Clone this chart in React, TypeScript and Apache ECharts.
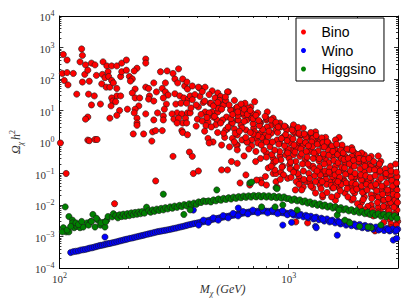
import React, { useEffect, useRef } from "react";
import * as echarts from "echarts";

// [M_chi (GeV), Omega h^2]
const BINO: [number, number][] = [
  [125,900],[126,560],[104,600],[108,400],[123,350],[138,320],[143,280],[130,280],[155,350],[161,260],[169,260],[178,260],[187,320],[196,400],[238,430],[238,320],[103,150],[108,160],[115,150],[105,90],[109,65],[119,33],[129,140],[133,190],[126,80],[135,85],[134,33],[138,15],[142,29],[151,16],[145,130],[154,140],[158,110],[163,170],[164,120],[153,70],[160,55],[166,55],[169,90],[172,75],[178,50],[185,120],[187,170],[178,29],[185,29],[169,25],[171,20],[168,14],[176,19],[183,10],[178,7],[166,5.7],[196,190],[202,120],[208,100],[218,220],[212,180],[204,86],[214,48],[208,36],[214,25],[224,25],[222,14],[214,11],[198,11],[212,8.4],[218,5.7],[238,7.8],[238,55],[245,50],[247,29],[245,23],[258,20],[258,75],[276,170],[295,180],[313,150],[331,210],[265,39],[281,50],[290,75],[290,39],[298,31],[284,25],[293,16],[287,11],[268,8.4],[284,6.7],[319,100],[328,75],[345,100],[352,60],[362,48],[319,34],[335,29],[349,25],[365,23],[322,16],[339,17],[359,17],[372,29],[326,8.4],[342,7.8],[362,8.4],[310,7.8],[316,5.3],[331,5.7],[345,4],[355,5.7],[372,8.4],[218,4],[133,6.2],[130,5.3],[408,52],[546,39],[360,80],[380,60],
  [101,0.93],[107,0.1],[133,1.15],[135,1.1],[143,1.2],[146,1.2],[174,0.011],[210,1.8],[218,3.4],[233,1.8],[253,1.07],[255,2.1],[263,2.3],[281,2.3],[258,5],[284,5],[326,4],[342,2.3],[345,2.0],[362,1.7],[359,4],[369,0.48],[380,0.35],[313,0.35],[263,0.058],[384,0.1],
  [432,55],[404,55],[464,42],[491,36],[541,39],[478,25],[505,28],[454,17],[424,18],[404,13],[464,9],[432,9],[400,5.3],[420,4.6],[445,4.3],[436,3.3],[500,21],[515,15],[491,9],[486,5],[536,6.2],[580,21],[591,12],[563,10],[620,10],[639,7],[684,13],[690,8.4],[658,5],[597,5],[563,4],[541,2.6],[580,2.6],[620,3.4],[651,2.4],[704,2.8],[754,4],[800,5],[856,5.7],[840,3.4],[916,4],[881,2.4],[971,3],[1040,2.8],[1070,1.9],[1010,1.4],[943,1.4],[1140,1.67],[1230,1.4],[1300,1.16],[1390,1.16],[1490,0.93],[1180,0.93],[1110,0.93],[916,0.93],[831,0.93],[777,1.16],[754,1.9],[792,1.67],[725,1.3],[690,1.16],[626,1.16],[597,1.67],[568,1.3],[526,1.4],[445,1.3],[468,1.0],[510,0.8],[552,0.7],[597,0.8],[658,1.0],[690,0.75],
  [1190,1.67],[1276,1.4],[1370,1.16],[1407,0.7],[1500,0.66],[1600,0.56],[1660,0.36],[1551,0.35],[1450,0.27],[1310,0.45],[1240,0.56],[1180,0.27],[1240,0.17],[1190,0.055],[1276,0.035],[1370,0.062],[1450,0.09],[1520,0.055],[1600,0.062],[1710,0.13],[1760,0.22],[1885,0.17],[1940,0.35],[2040,0.22],[2140,0.11],[2240,0.19],[2410,0.15],[2480,0.11],[2650,0.08],[2785,0.075],[2910,0.043],[2785,0.03],[2600,0.037],[2460,0.055],[2291,0.062],[2140,0.055],[2020,0.08],[1920,0.062],[1830,0.043],[1740,0.062],[1660,0.035],[1760,0.024],[1940,0.024],[2140,0.018],[2360,0.02],[2580,0.014],[2730,0.011],[2910,0.009],[2526,0.0076],[2291,0.009],[2078,0.012],[2220,0.0053],[2380,0.0015],[2340,0.0045],[2785,0.0048],[2970,0.0069],[1210,0.0027],[1600,0.014],[1407,0.018],[1310,0.024],[1660,1.4],[1710,0.7],[1830,0.56],[1940,0.45],[2140,0.39],[2480,0.19],[2730,0.09],[2460,0.36],
  [591,0.8],[597,0.56],[639,0.36],[563,0.24],[597,0.21],[510,0.13],[541,0.13],[404,0.12],[651,0.09],[718,0.24],[754,0.3],[800,0.45],[815,0.15],[792,0.08],[754,0.062],[762,0.05],[725,0.062],[856,0.1],[881,0.1],[925,0.11],[943,0.17],[1010,0.19],[1060,0.13],[1110,0.08],[1120,0.055],[1070,0.03],[990,0.07],[881,0.055],[856,0.3],[916,0.36],[971,0.39],[1040,0.56],[1140,0.7],[1075,0.0029],[800,0.043],
  [614,0.05],[677,0.043],[890,0.037],[1158,0.037],[1240,0.05],[1370,0.043],[1551,0.035],[1407,0.021],[1630,0.02],[1885,0.0144],[2291,0.01],[2460,0.0085],[2700,0.0076],[2860,0.0118],
  [459,17],[491,12],[521,15],[558,10.4],[597,13],[632,8.4],[664,12],[468,6.2],[515,5],[568,4],[690,5.7],[747,4.3],[800,5.7],[840,5],[881,3.5],[925,3],[980,2.4],[1050,2.1],[1120,1.67],[1190,1.4],[1276,1.3],[1370,1.0],[1450,0.8],[1551,0.66],[1660,0.45],[1760,0.36],[1885,0.35],[2020,0.24],[2140,0.22],[2291,0.17],[2460,0.15],[2600,0.11],[2785,0.09],[2910,0.055],
  [840,1.9],[890,1.16],[952,1.4],[1020,0.93],[1080,0.66],[1158,0.8],[1240,0.5],[1310,0.39],[1407,0.35],[1500,0.22],[1600,0.17],[1710,0.13],[1830,0.1],[1940,0.08],[2078,0.062],[2220,0.055],[2360,0.037],[2526,0.03],[2700,0.024],[2860,0.018],
  [980,0.56],[1050,0.39],[1120,0.35],[1190,0.22],[1276,0.17],[1370,0.13],[1450,0.1],[1551,0.08],[1660,0.062],[1760,0.055],[1885,0.037],[2020,0.035],[2140,0.027],[2291,0.021],[2460,0.018],[2600,0.0144],[2785,0.012],[2970,0.03],[2970,0.08],[2910,0.0144],
  [1050,3.5],[1158,2.8],[1310,2.1],[1450,1.4],[1600,1.16],[1710,0.8],[1885,0.66],[2078,0.45],[2291,0.35],[2526,0.24],[2785,0.17],
  [450,8.4],[481,3.5],[531,2.4],[585,1.9],[626,2.8],[711,2.1],[762,1.4],[800,1.0],[733,0.93],[658,1.0],[450,0.93],[603,5],[733,8.4],[807,9],[645,17],[711,19],[531,21],
  [790,6.5],[805,3.0],[815,1.5],[830,0.7],[845,0.4],[860,0.22],[870,0.13],[880,4.2],[895,2.0],[905,0.85],[915,0.5],[925,0.27],[935,0.16],[950,0.09],[960,3.2],[970,1.7],[985,1.1],[995,0.6],[1005,0.3],[1015,0.14],[1025,0.075],[1035,2.4],[1045,1.25],[1055,0.8],[1065,0.48],[1075,0.24],[1085,0.16],[1095,0.1],[1100,2.9],[1110,1.9],[1120,1.1],[1130,0.6],[1140,0.42],[1150,0.2],[1160,0.12],[1165,0.065],[820,2.2],[850,1.0],[870,0.55],[900,3.0],[930,1.3],[960,0.75],[990,0.45],[1020,0.23],[1050,0.11],[1080,0.055],[1110,0.045],[1140,0.03],[800,0.33],[840,0.17],[880,0.25],[920,0.065],[780,0.55],[760,0.8],[770,2.5],[745,3.3],[735,1.6],[720,0.5],[700,1.8],[700,3.8],[680,2.0],[670,0.6],[650,1.4],[640,4.5],[610,2.2],[600,7.0],[580,1.0],[560,5.5],[545,3.0],[520,1.9],[505,4.0],[490,2.0],[475,6.5],[460,3.0],[440,6.0],[430,2.2],[415,7.5],[395,3.2],[410,28],[430,20],[450,32],[470,14],[490,18],[510,11],[530,27],[550,15],[570,7.5],[600,9],[620,16],[640,11],[660,7.5],[680,10],[700,5.5],[720,7],[740,4.8],[420,40],[390,32],[380,22],[395,15],[375,12],
  [1170,1.8],[1185,0.95],[1195,0.5],[1205,0.33],[1215,0.2],[1225,0.1],[1235,0.07],[1250,2.0],[1260,1.0],[1270,0.7],[1280,0.3],[1290,0.14],[1300,0.085],[1310,0.055],[1320,1.6],[1335,0.85],[1345,0.52],[1355,0.25],[1365,0.16],[1375,0.09],[1385,0.033],[1395,1.35],[1410,0.95],[1420,0.42],[1430,0.2],[1440,0.12],[1455,0.065],[1465,0.045],[1475,1.0],[1490,0.55],[1500,0.38],[1510,0.15],[1520,0.1],[1535,0.042],[1545,0.75],[1560,0.5],[1575,0.26],[1585,0.13],[1595,0.09],[1610,0.045],[1620,0.85],[1635,0.4],[1645,0.22],[1655,0.11],[1670,0.075],[1680,0.028],[1690,0.55],[1700,0.3],[1705,0.16],[1700,0.045],[1220,0.75],[1290,0.45],[1360,0.3],[1430,0.7],[1500,0.11],[1570,0.035],[1640,0.055],[1250,0.04],[1330,0.12],[1400,0.055],[1470,0.025],[1540,0.018],
  [1730,0.45],[1745,0.28],[1755,0.15],[1770,0.095],[1785,0.05],[1800,0.033],[1815,0.018],[1800,0.6],[1820,0.3],[1840,0.2],[1860,0.12],[1875,0.075],[1890,0.05],[1905,0.028],[1915,0.016],[1900,0.55],[1920,0.26],[1935,0.17],[1950,0.1],[1965,0.045],[1980,0.032],[1995,0.011],[2010,0.4],[2030,0.3],[2050,0.14],[2065,0.09],[2080,0.04],[2100,0.025],[2115,0.015],[2130,0.28],[2150,0.17],[2170,0.085],[2185,0.045],[2200,0.03],[2215,0.009],[2240,0.3],[2255,0.13],[2270,0.075],[2290,0.04],[2305,0.016],[2320,0.007],[2350,0.24],[2370,0.13],[2385,0.085],[2400,0.045],[2420,0.028],[2440,0.012],[2460,0.006],[2490,0.2],[2510,0.12],[2530,0.07],[2550,0.04],[2570,0.022],[2590,0.009],[2610,0.005],[2640,0.14],[2660,0.1],[2680,0.05],[2700,0.03],[2720,0.016],[2740,0.0065],[2760,0.0035],[2800,0.12],[2820,0.06],[2840,0.04],[2860,0.022],[2880,0.0085],[2900,0.0052],[2930,0.2],[2950,0.11],[2960,0.05],[2975,0.02],[2985,0.012],[2990,0.003],[2600,0.0028],[2800,0.0025],[2950,0.0023],[2150,0.007],[2050,0.0085],[2800,0.0019],[2930,0.0016]
];

const WINO: [number, number][] = [
  [112,3.1e-4],[115,3.3e-4],[118,3.4e-4],[121,3.5e-4],[124,3.7e-4],[127,3.8e-4],[130,3.9e-4],[133,4.1e-4],[136,4.3e-4],[139,4.4e-4],[142,4.6e-4],[145,4.8e-4],[148,5.0e-4],[151,5.2e-4],[154,5.3e-4],[157,5.5e-4],[160,5.7e-4],[163,5.9e-4],[158,9.6e-4],
  [166,6.0e-4],[170,6.3e-4],[174,6.5e-4],[178,6.8e-4],[182,7.1e-4],[186,7.4e-4],[190,7.7e-4],[194,8.0e-4],[198,8.3e-4],[203,8.7e-4],[208,9.0e-4],[213,9.4e-4],[218,9.8e-4],[223,1.02e-3],[228,1.06e-3],[233,1.1e-3],[238,1.15e-3],[244,1.2e-3],[250,1.25e-3],[256,1.3e-3],[262,1.36e-3],[268,1.42e-3],[274,1.46e-3],
  [280,1.5e-3],[287,1.55e-3],[294,1.6e-3],[301,1.66e-3],[308,1.72e-3],[315,1.79e-3],[323,1.86e-3],[331,1.94e-3],[339,2.02e-3],[347,2.1e-3],[355,2.2e-3],[363,2.3e-3],[372,2.4e-3],[381,2.5e-3],[390,2.6e-3],[400,2.7e-3],[410,2.8e-3],[420,2.9e-3],[430,3.0e-3],[441,3.15e-3],[452,3.3e-3],[463,3.45e-3],[475,3.6e-3],[487,3.75e-3],[499,3.9e-3],[512,4.05e-3],[525,4.2e-3],[538,4.35e-3],[552,4.5e-3],[566,4.65e-3],[580,4.8e-3],[595,5.0e-3],[610,5.2e-3],[625,5.4e-3],[640,5.6e-3],[656,5.8e-3],[672,6.0e-3],[690,6.1e-3],[707,6.2e-3],[725,6.3e-3],[743,6.4e-3],[762,6.4e-3],[781,6.4e-3],[800,6.35e-3],[820,6.3e-3],[841,6.2e-3],[862,6.1e-3],[884,6.0e-3],[906,5.9e-3],[929,5.75e-3],[952,5.6e-3],[976,5.5e-3],[1000,5.35e-3],
  [405,2.3e-3],[425,3.3e-3],[446,2.8e-3],[469,3.9e-3],[493,3.3e-3],[518,4.6e-3],[545,3.9e-3],[573,5.4e-3],[602,4.5e-3],[632,6.2e-3],[664,5.2e-3],[698,6.9e-3],[734,5.6e-3],[771,7.1e-3],[810,5.6e-3],[851,6.9e-3],[895,5.3e-3],[941,6.6e-3],[988,4.9e-3],[603,8e-3],[384,6.9e-3],
  [1025,5.8e-3],[1050,4.8e-3],[1075,5.4e-3],[1100,4.5e-3],[1130,5.0e-3],[1160,4.2e-3],[1190,4.7e-3],[1220,3.9e-3],[1250,4.4e-3],[1285,3.6e-3],[1320,4.1e-3],[1355,3.4e-3],[1390,3.8e-3],[1430,3.1e-3],[1470,3.6e-3],[1510,2.9e-3],[1550,3.3e-3],[1595,2.7e-3],[1640,3.1e-3],[1685,2.5e-3],[1730,2.9e-3],[1780,2.3e-3],[1830,2.7e-3],[1880,2.2e-3],[1930,2.5e-3],[1985,2.05e-3],[2040,2.4e-3],[2095,1.9e-3],[2155,2.25e-3],[2215,1.8e-3],[2275,2.1e-3],[2340,1.7e-3],[2405,2.0e-3],[2470,1.6e-3],[2540,1.9e-3],[2610,1.55e-3],[2685,1.8e-3],[2760,1.5e-3],[2840,1.75e-3],[2920,1.45e-3],[2990,1.7e-3],
  [1040,5.3e-3],[1115,4.8e-3],[1205,4.3e-3],[1300,3.9e-3],[1410,3.5e-3],[1530,3.1e-3],[1660,2.8e-3],[1805,2.5e-3],[1955,2.3e-3],[2125,2.05e-3],[2305,1.9e-3],[2500,1.75e-3],[2720,1.65e-3],[2950,1.55e-3],
  [943,2.3e-3],[1030,2.8e-3],[1310,2.1e-3],[1320,1.9e-3],[1630,1.1e-3],[2860,7.7e-4],[2960,8.7e-4]
];

const HIGGSINO: [number, number][] = [
  [106,8.7e-3],[110,4.3e-3],[114,3.3e-3],[114,2.7e-3],[104,1.9e-3],[107,1.4e-3],[110,1.4e-3],[116,1.9e-3],[119,2.1e-3],[123,1.9e-3],[127,2.0e-3],[132,2.7e-3],[137,3.0e-3],[140,5.0e-3],[143,2.0e-3],[147,3.3e-3],[151,2.3e-3],[155,2.8e-3],[158,2.0e-3],[161,3.3e-3],[103,1.4e-3],[108,1.6e-3],[112,2.1e-3],[118,2.7e-3],[121,2.4e-3],[125,3.0e-3],[134,2.3e-3],[138,3.0e-3],[145,3.8e-3],[152,2.7e-3],[159,2.9e-3],[163,4.3e-3],
  [170,4.2e-3],[172,5.3e-3],[176,4.6e-3],[180,3.9e-3],[183,4.9e-3],[187,4.3e-3],[190,5.1e-3],[194,4.4e-3],[198,5.3e-3],[202,4.6e-3],[206,5.6e-3],[210,4.9e-3],[214,5.8e-3],[218,5.1e-3],[222,6.0e-3],[226,5.3e-3],[230,6.2e-3],[235,5.5e-3],[240,8.5e-3],
  [245,6.6e-3],[250,5.9e-3],[255,7.0e-3],[260,6.3e-3],[266,7.4e-3],[272,6.7e-3],[278,7.8e-3],[284,7.0e-3],[290,8.2e-3],[297,7.5e-3],[304,8.7e-3],[311,7.9e-3],[318,9.2e-3],[326,8.4e-3],[334,9.7e-3],[342,8.9e-3],[350,1.03e-2],[359,9.4e-3],[368,1.09e-2],[377,1.0e-2],[386,1.15e-2],[396,1.05e-2],[405,1.25e-2],[415,1.2e-2],[425,1.35e-2],[436,1.28e-2],[349,5e-3],[372,7e-3],[284,2.2e-2],
  [447,1.35e-2],[458,1.25e-2],[470,1.45e-2],[482,1.35e-2],[494,1.55e-2],[507,1.42e-2],[520,1.62e-2],[533,1.5e-2],[547,1.7e-2],[561,1.55e-2],[575,1.78e-2],[590,1.62e-2],[605,1.85e-2],[620,1.7e-2],[636,1.92e-2],[652,1.75e-2],[669,1.95e-2],[686,1.78e-2],[704,2.0e-2],[722,1.8e-2],[740,2.0e-2],[759,1.8e-2],[779,1.98e-2],[800,1.78e-2],[820,1.95e-2],[841,1.75e-2],[863,1.9e-2],[885,1.7e-2],[908,1.85e-2],[931,1.65e-2],[955,1.8e-2],[980,1.6e-2],
  [1005,1.6e-2],[1030,1.4e-2],[1060,1.55e-2],[1090,1.35e-2],[1120,1.45e-2],[1150,1.25e-2],[1180,1.35e-2],[1210,1.15e-2],[1240,1.25e-2],[1270,1.05e-2],[1300,1.15e-2],[1335,9.8e-3],[1370,1.08e-2],[1405,9.2e-3],[1440,1.0e-2],[1480,8.6e-3],[1520,9.4e-3],[1560,8.0e-3],[1600,8.8e-3],[1645,7.5e-3],[1690,8.2e-3],[1735,7.0e-3],[1780,7.6e-3],[1830,6.5e-3],[1880,7.1e-3],[1930,6.1e-3],[1980,6.7e-3],[2035,5.7e-3],[2090,6.3e-3],[2150,5.3e-3],[2210,5.9e-3],[2270,5.0e-3],[2330,5.6e-3],[2390,4.7e-3],[2460,5.3e-3],[2530,4.4e-3],[2600,5.0e-3],[2670,4.2e-3],[2740,4.8e-3],[2820,4.0e-3],[2900,4.6e-3],[2970,3.8e-3],
  [2040,2.1e-3],[2291,1.9e-3],[2526,2.3e-3],[1830,2.9e-3],[1630,4.8e-3],[1760,3.3e-3],[2220,2.0e-3],[1850,2.7e-3],
  [677,5e-2],[690,5.3e-2],[486,3e-2],[881,3.5e-2],[890,3.3e-2],[762,8.7e-3],[873,8.7e-3],[943,1e-2],[1090,6.9e-3],[1660,6.9e-3]
];

const SERIES_NAMES = ["Bino", "Wino", "Higgsino"];
const SERIES_COLORS = ["#ff0000", "#0000ff", "#008000"];

const X_RANGE = [100, 3000];
const Y_RANGE = [1e-4, 1e4];
const X_MAJOR = [100, 1000];
const X_MINOR = [200, 300, 400, 500, 600, 700, 800, 900, 2000, 3000];
const Y_MAJOR = [1e-4, 1e-3, 1e-2, 1e-1, 1, 1e1, 1e2, 1e3, 1e4];
const Y_MINOR: number[] = [];
for (let n = -4; n < 4; n++) for (let k = 2; k <= 9; k++) Y_MINOR.push(k * Math.pow(10, n));

const lg = Math.log10;
const SERIF = "'Liberation Serif', 'DejaVu Serif', serif";

const tickRich = {
  b: { fontFamily: SERIF, fontSize: 11, color: "#333", lineHeight: 13, verticalAlign: "bottom" },
  s: { fontFamily: SERIF, fontSize: 8, color: "#333", lineHeight: 9, verticalAlign: "top" },
};
const powLabel = (v: number) => {
  const e = Math.round(v);
  return `{b|10}{s|${e < 0 ? "\u2212" + -e : e}}`;
};

function makeAxis(kind: "x" | "y", pos: string, minor: boolean, labels: boolean, extra: any = {}) {
  const range = kind === "x" ? X_RANGE : Y_RANGE;
  const vals = (kind === "x" ? (minor ? X_MINOR : X_MAJOR) : (minor ? Y_MINOR : Y_MAJOR)).map(lg);
  return {
    type: "value",
    position: pos,
    min: lg(range[0]),
    max: lg(range[1]),
    axisLine: { show: !minor, onZero: false, lineStyle: { color: "#000", width: 1 } },
    axisTick: {
      show: true,
      inside: true,
      length: minor ? 2 : 4,
      customValues: vals,
      lineStyle: { color: "#000", width: 0.8 },
    },
    axisLabel: labels
      ? { show: true, customValues: vals, formatter: powLabel, rich: tickRich, margin: kind === "x" ? 3 : 5 }
      : { show: false },
    splitLine: { show: false },
    ...extra,
  };
}

export default function App() {
  const ref = useRef<HTMLDivElement>(null);
  useEffect(() => {
    if (!ref.current) return;
    const chart = echarts.init(ref.current, undefined, { renderer: "svg" });
    const toLog = (d: [number, number][]) => d.map(([m, o]) => [lg(m), lg(o)]);
    const datasets = [BINO, WINO, HIGGSINO];
    chart.setOption({
      animation: false,
      backgroundColor: "#fff",
      grid: { left: 49, right: 11, top: 16, bottom: 39, containLabel: false },
      legend: {
        data: SERIES_NAMES,
        orient: "vertical",
        left: 296,
        top: 18,
        icon: "circle",
        itemWidth: 26,
        itemHeight: 5,
        itemGap: 4.5,
        padding: [7, 8, 5, 5],
        borderColor: "#000",
        borderWidth: 1,
        borderRadius: 0,
        backgroundColor: "#fff",
        itemStyle: { borderWidth: 0 },
        textStyle: { fontFamily: "'Liberation Sans', Arial, sans-serif", fontSize: 14, lineHeight: 14, color: "#000" },
      },
      xAxis: [
        makeAxis("x", "bottom", false, true, {
          name: "{i|M}{sb|\u03c7}{i| (GeV)}",
          nameLocation: "middle",
          nameGap: 15,
          nameMoveOverlap: false,
          nameTextStyle: {
            padding: [0, 12, 0, 0],
            rich: {
              i: { fontFamily: SERIF, fontStyle: "italic", fontSize: 12, color: "#333", lineHeight: 14, verticalAlign: "top" },
              sb: { fontFamily: SERIF, fontStyle: "italic", fontSize: 8, color: "#333", lineHeight: 14, verticalAlign: "bottom" },
            },
          },
        }),
        makeAxis("x", "bottom", true, false),
        makeAxis("x", "top", false, false),
        makeAxis("x", "top", true, false),
      ],
      yAxis: [
        makeAxis("y", "left", false, true, {
          name: "{i|\u03a9}{sb|\u03c7}{i|h}{sp|2}",
          nameLocation: "middle",
          nameGap: 27,
          nameTextStyle: {
            rich: {
              i: { fontFamily: SERIF, fontStyle: "italic", fontSize: 12, color: "#333", lineHeight: 16, verticalAlign: "middle" },
              sb: { fontFamily: SERIF, fontStyle: "italic", fontSize: 8, color: "#333", lineHeight: 16, verticalAlign: "bottom", padding: [0, 2, 0, 0] },
              sp: { fontFamily: SERIF, fontSize: 8, color: "#333", lineHeight: 16, verticalAlign: "top" },
            },
          },
        }),
        makeAxis("y", "left", true, false),
        makeAxis("y", "right", false, false),
        makeAxis("y", "right", true, false),
      ],
      series: datasets.map((d, i) => ({
        name: SERIES_NAMES[i],
        type: "scatter",
        xAxisIndex: 0,
        yAxisIndex: 0,
        data: toLog(d),
        symbol: "circle",
        symbolSize: 6.2,
        itemStyle: { color: SERIES_COLORS[i], borderColor: "#1a1a1a", borderWidth: 0.6, opacity: 1 },
        emphasis: { disabled: true },
        clip: true,
      })),
    });
    return () => chart.dispose();
  }, []);
  return <div ref={ref} style={{ position: "fixed", left: 0, top: 0, width: 409, height: 307 }} />;
}
